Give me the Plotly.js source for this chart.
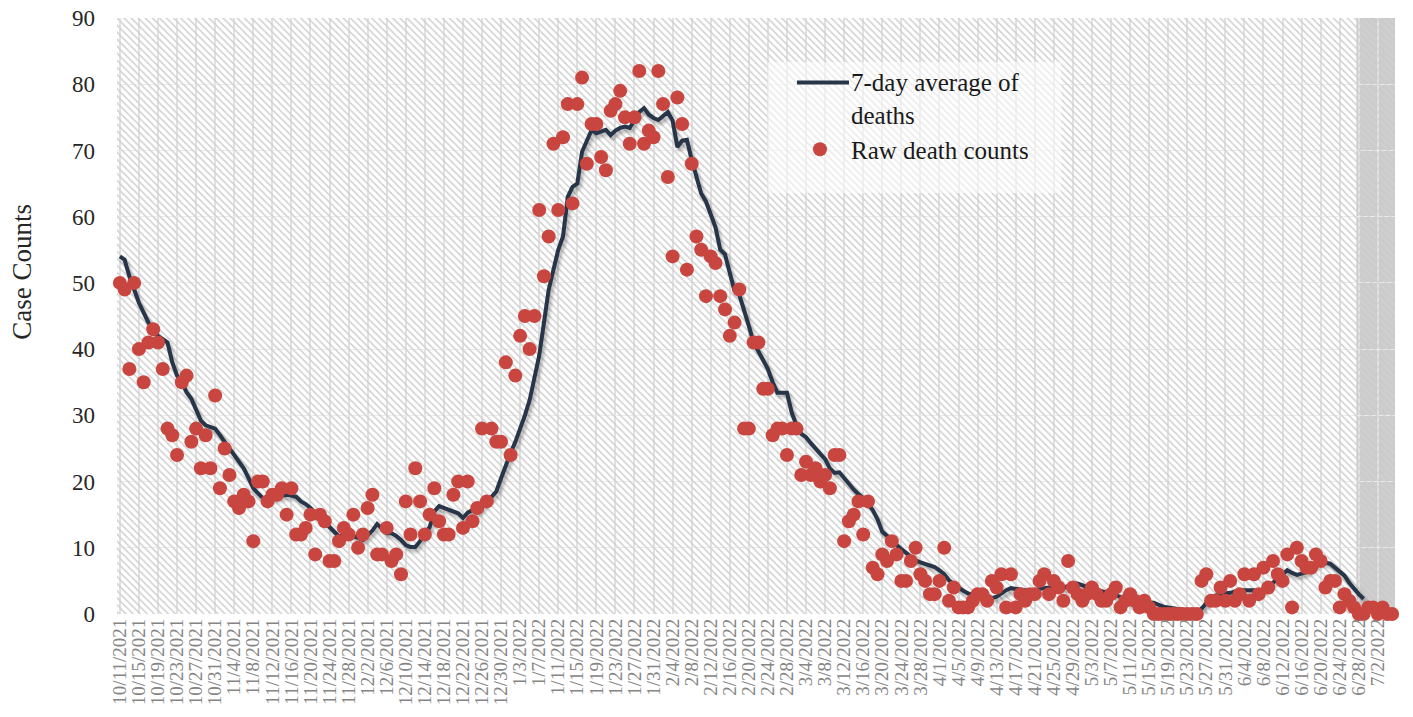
<!DOCTYPE html>
<html>
<head>
<meta charset="utf-8">
<script src="https://cdn.plot.ly/plotly-3.0.1.min.js"></script>
<style>
html,body{margin:0;padding:0;background:#fff;}
#chart{width:1413px;height:717px;}
</style>
</head>
<body>
<div id="chart"></div>
<script>
// ---------- data ----------
const startDate = '2021-10-11';          // first day of the series
const tickStepDays = 4;                  // one tick label every 4 days
const shadedFrom = '2022-06-27 12:00';   // start of the grey (incomplete-data) band
const axisStart = '2021-10-10 09:36';
const axisEnd = '2022-07-05 14:24';

const rawDeaths = [
 50,49,37,50,40,35,41,43,41,37,
 28,27,24,35,36,26,28,22,27,22,
 33,19,25,21,17,16,18,17,11,20,
 20,17,18,18,19,15,19,12,12,13,
 15,9,15,14,8,8,11,13,12,15,
 10,12,16,18,9,9,13,8,9,6,
 17,12,22,17,12,15,19,14,12,12,
 18,20,13,20,14,16,28,17,28,26,
 26,38,24,36,42,45,40,45,61,51,
 57,71,61,72,77,62,77,81,68,74,
 74,69,67,76,77,79,75,71,75,82,
 71,73,72,82,77,66,54,78,74,52,
 68,57,55,48,54,53,48,46,42,44,
 49,28,28,41,41,34,34,27,28,28,
 24,28,28,21,23,21,22,20,21,19,
 24,24,11,14,15,17,12,17,7,6,
 9,8,11,9,5,5,8,10,6,5,
 3,3,5,10,2,4,1,1,1,2,
 3,3,2,5,4,6,1,6,1,3,
 2,3,3,5,6,3,5,4,2,8,
 4,3,2,3,4,3,2,2,3,4,
 1,2,3,2,1,2,1,0,0,0,
 0,0,0,0,0,0,0,5,6,2,
 2,4,2,5,2,3,6,2,6,3,
 7,4,8,6,5,9,1,10,8,7,
 7,9,8,4,5,5,1,3,2,1,
 0,0,1,1,0,1,0,0
];

const avgDeaths = [
 54,53.5,51,48.8,47,45.5,44,43,42,41.5,
 41,38,36,35,33.5,32.5,31,29.2,28.5,28.2,
 28,27,26,25,24,23,22,20.5,19,18.2,
 17.5,17.5,17.5,17.7,17.9,18,17.9,17.7,17,16.6,
 16,15.3,14.7,14,13.2,12.4,11.7,12,12.2,11.8,
 11.5,11.2,11.9,12.6,13.6,12.8,12.2,12.2,11.8,11.2,
 10.4,10.1,10.1,11,12.2,13.1,15.5,16.3,16,15.8,
 15.5,15.2,14.5,15.3,15.7,15.4,16.2,16.8,17.7,18.5,
 20.5,22.5,24.3,26,27.8,30,32.3,35.5,39,44,
 49,52,55,57,63,64.5,65,69.8,71.6,73.1,
 72.6,72.8,73.1,72.3,73,73.4,73.6,73.4,74.5,75.8,
 76.4,75.4,74.9,74.6,75.2,75.8,74.5,70.5,71.5,71.6,
 68.6,66,63.5,62.3,60.5,58.4,55,54.3,51.5,48.8,
 48.2,46,43.5,41,39.6,38.5,37,35,33.4,33.4,
 33.4,30.4,28.5,27.2,26.7,25.8,25,24.3,23.4,22,
 21.3,21.4,20.5,19.6,18.8,18.1,17.5,16.6,15.7,14.3,
 12.4,11.8,11,10.4,9.8,9.2,8.6,8.1,7.8,7.6,
 7.4,7.1,6.6,6,5.1,4.5,4,3.5,3.1,2.9,
 2.6,2.4,2.4,2.4,2.6,3.1,3.6,3.9,3.8,3.6,
 3.6,3.6,3.6,3.8,3.9,4,4.1,4,3.9,4.2,
 4.5,4.6,4.3,4.1,3.9,3.7,3.5,3.3,3.1,2.8,
 2.6,2.2,1.8,1.7,1.7,1.7,1.7,1.7,1.4,1.1,
 1,0.9,0.8,0.7,0.6,0.4,0.3,0.8,1.7,2.5,
 2.8,3,3.1,3.2,3.4,3.6,3.6,3.6,3.6,3.3,
 3.8,4.1,4.7,5.3,5.9,6.6,6.2,5.9,6.1,6.3,
 6.8,7.5,7.9,7.8,7.6,7,6.4,5.8,4.7,3.8,
 3,2.3
];

const seriesNames = ['7-day average of<br>deaths', 'Raw death counts'];
const yAxisTitle = 'Case Counts';
const yMax = 90;
const yStep = 10;

// ---------- build dates ----------
function dayDate(i){
  const d = new Date(startDate + 'T00:00:00Z');
  d.setUTCDate(d.getUTCDate() + i);
  return d.toISOString().slice(0,10);
}
const rawDates = rawDeaths.map((_, i) => dayDate(i));
const avgDates = avgDeaths.map((_, i) => dayDate(i));

const FONT = '"Liberation Serif", "Times New Roman", serif';

const hatch = {
  x: [axisStart, axisEnd, axisEnd, axisStart, axisStart],
  y: [0, 0, yMax, yMax, 0],
  type: 'scatter', mode: 'none', fill: 'toself',
  fillcolor: 'rgba(0,0,0,0)',
  fillpattern: {shape: '\\', fgcolor: '#d0d0d0', bgcolor: 'rgba(0,0,0,0)', size: 5, solidity: 0.3},
  hoverinfo: 'skip', showlegend: false
};

const shadow = {
  x: avgDates, y: avgDeaths, type: 'scatter', mode: 'lines',
  line: {color: 'rgba(40,40,40,0.30)', width: 5},
  hoverinfo: 'skip', showlegend: false, cliponaxis: false
};

const avgTrace = {
  x: avgDates, y: avgDeaths, type: 'scatter', mode: 'lines',
  name: seriesNames[0],
  line: {color: '#263548', width: 4},
  cliponaxis: false
};

const rawTrace = {
  x: rawDates, y: rawDeaths, type: 'scatter', mode: 'markers',
  name: seriesNames[1],
  marker: {color: '#C8463F', size: 14},
  cliponaxis: false
};

const layout = {
  width: 1413, height: 717,
  margin: {l: 117, r: 18, t: 18, b: 103},
  paper_bgcolor: '#ffffff',
  plot_bgcolor: '#ffffff',
  font: {family: FONT, color: '#262626'},
  showlegend: true,
  legend: {
    x: 0.5305, y: 0.932, xanchor: 'left', yanchor: 'top',
    bgcolor: 'rgba(0,0,0,0)',
    borderwidth: 0,
    itemwidth: 46,
    font: {family: FONT, size: 25, color: '#1a1a1a'},
    tracegroupgap: 0
  },
  xaxis: {
    type: 'date',
    range: [axisStart, axisEnd],
    tick0: startDate,
    dtick: tickStepDays * 86400000,
    tickformat: '%-m/%-d/%Y',
    tickangle: -90,
    tickfont: {family: FONT, size: 19, color: '#858585'},
    showgrid: true, gridcolor: '#e1e1e1', gridwidth: 2,
    zeroline: false, showline: false, ticks: ''
  },
  yaxis: {
    range: [0, yMax],
    dtick: yStep,
    tickfont: {family: FONT, size: 23, color: '#262626'},
    showgrid: true, gridcolor: '#ebebeb', gridwidth: 1,
    zeroline: false, showline: false, ticks: '',
    ticklabelstandoff: 21
  },
  annotations: [{
    text: yAxisTitle, xref: 'paper', yref: 'paper',
    x: -0.0745, y: 0.574, xanchor: 'center', yanchor: 'middle',
    textangle: -90, showarrow: false,
    font: {family: FONT, size: 27, color: '#262626'}
  }],
  shapes: [{
    type: 'rect', xref: 'x', yref: 'paper',
    x0: shadedFrom, x1: axisEnd, y0: 0, y1: 1,
    fillcolor: '#cbcbcb', line: {width: 0}, layer: 'below'
  }, {
    type: 'rect', xref: 'paper', yref: 'paper',
    x0: 0.509, x1: 0.739, y0: 0.706, y1: 0.926,
    fillcolor: 'rgba(255,255,255,0.55)', line: {width: 0}, layer: 'above'
  }]
};

Plotly.newPlot('chart', [hatch, shadow, avgTrace, rawTrace], layout, {displayModeBar: false, staticPlot: true}).then(function(gd){
  const traces = gd.querySelectorAll('.scatterlayer .trace');
  if (traces[1]) {
    traces[1].style.transform = 'translate(2px,3px)';
    traces[1].style.filter = 'blur(1.5px)';
  }
  // legend symbol styling: longer line aligned with first text row, dot centred in symbol area
  const items = gd.querySelectorAll('.legend .traces');
  items.forEach(function(it){
    const ln = it.querySelector('.legendlines path');
    if (ln) ln.setAttribute('d', 'M2,-15h52');
    const pt = it.querySelector('.legendpoints path');
    if (pt) pt.setAttribute('transform', 'translate(25,0)');
  });
});
</script>
</body>
</html>
